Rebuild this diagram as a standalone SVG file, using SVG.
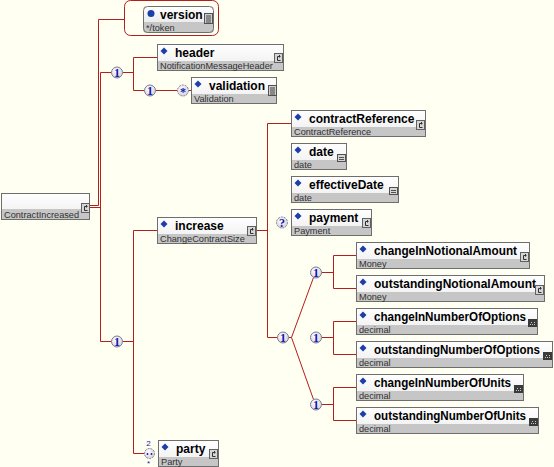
<svg xmlns="http://www.w3.org/2000/svg" xmlns:xlink="http://www.w3.org/1999/xlink" width="554" height="467" viewBox="0 0 554 467">
<style>
.ln{stroke:#b41e1e;stroke-width:1;fill:none}
.top{fill:url(#gt)}
.bot{fill:#c6c6c6}
.bd{fill:none;stroke:#6e6e6e}
.dm{fill:#1c3ea8}
.t{font-family:"Liberation Sans",Arial,sans-serif;font-weight:bold;font-size:12px;fill:#000}
.s{font-family:"Liberation Sans",Arial,sans-serif;font-size:9.2px;fill:#303030}
.cir{fill:url(#gc);stroke:#7c7c90}
.opt{stroke-dasharray:2,1}
.ct{font-family:"Liberation Serif",serif;font-weight:bold;font-size:12px;fill:#1414b4;text-anchor:middle}
.sm{font-family:"Liberation Sans",Arial,sans-serif;font-size:8px;fill:#1414b4;text-anchor:middle}
</style>
<defs>
<linearGradient id="gt" x1="0" y1="0" x2="0" y2="1"><stop offset="0" stop-color="#ffffff"/><stop offset="1" stop-color="#ececec"/></linearGradient>
<radialGradient id="gc" cx="0.4" cy="0.35" r="0.7"><stop offset="0" stop-color="#ffffff"/><stop offset="1" stop-color="#d0d0d8"/></radialGradient>
<g id="ic-c"><rect x="0.5" y="0.5" width="8" height="9" fill="#d6d6d6" stroke="#606060"/><path d="M6.5,3.5H3.5V7.5H6.5M5.5,2V4.5" stroke="#303030" fill="none"/></g>
<g id="ic-x"><rect x="0" y="0" width="9" height="8" fill="#3a3a3a"/><path d="M2,5.5h1M4,5.5h1M6,5.5h1M3,3.5h1M6,3.5h1" stroke="#c8c8c8"/></g>
<g id="ic-d"><rect x="0.5" y="0.5" width="8" height="7" fill="#d6d6d6" stroke="#505050"/><path d="M2,3.5h5M2,5.5h5" stroke="#505050"/></g>
<g id="ic-doc"><rect x="0.5" y="0.5" width="8" height="10" fill="#d0d0d0" stroke="#505050"/><path d="M2,3h5M2,5h5M2,7h5M2,9h5" stroke="#404040"/></g>
</defs>
<rect width="554" height="467" fill="#fffff2"/>

<g id="connectors" class="ln">
<path d="M90,205.5H98.5V19.5H124.5M90,207.5H100.5M100.5,72.5V341.5M100.5,72.5H111.5M122.5,72.5H133.5M133.5,57.5V90.5M133.5,57.5H157M133.5,90.5H144.5M155.5,90.5H177.5M188.5,90.5H191"/>
<path d="M100.5,341.5H111.5M122.5,341.5H133.5M133.5,230.5V453.5M133.5,230.5H157M133.5,453.5H144.5"/>
<path d="M257,230.5H267.5M267.5,123.5V337.5M267.5,123.5H291M267.5,337.5H277.5M288.5,337.5H291.5L313.5,277.5M291.5,337.5L313.5,399.5"/>
<path d="M321.5,272.5H333.5M333.5,255.5V288.5M333.5,255.5H356M333.5,288.5H356"/>
<path d="M321.5,337.5H333.5M333.5,321.5V354.5M333.5,321.5H356M333.5,354.5H356"/>
<path d="M321.5,404.5H333.5M333.5,387.5V420.5M333.5,387.5H356M333.5,420.5H356"/>
</g>

<g id="compositors">
<circle class="cir" cx="117" cy="72.5" r="5.5"/><text class="ct" x="117" y="76.5">1</text>
<circle class="cir" cx="150" cy="90.5" r="5.5"/><text class="ct" x="150" y="94.5">1</text>
<circle class="cir opt" cx="183" cy="90.5" r="5.5"/><text class="ct" x="183" y="96">*</text>
<circle class="cir" cx="117" cy="341.5" r="5.5"/><text class="ct" x="117" y="345.5">1</text>
<circle class="cir opt" cx="149.5" cy="453.5" r="5"/>
<circle cx="147.5" cy="454" r="0.9" fill="#1414b4"/><circle cx="151.5" cy="454" r="0.9" fill="#1414b4"/>
<text class="sm" x="148.5" y="445.5">2</text><text class="sm" x="148.5" y="466" font-size="10">*</text>
<circle class="cir opt" cx="282" cy="222.5" r="5.5"/><text class="ct" x="282" y="226.5">?</text>
<circle class="cir" cx="283" cy="337.5" r="5.5"/><text class="ct" x="283" y="341.5">1</text>
<circle class="cir" cx="316" cy="272.5" r="5.5"/><text class="ct" x="316" y="276.5">1</text>
<circle class="cir" cx="316" cy="337.5" r="5.5"/><text class="ct" x="316" y="341.5">1</text>
<circle class="cir" cx="316" cy="404.5" r="5.5"/><text class="ct" x="316" y="408.5">1</text>
</g>

<g id="n-root" transform="translate(1,193)">
<rect class="top" width="89" height="27"/><rect class="bot" y="16" width="89" height="11"/><rect class="bd" x="0.5" y="0.5" width="88" height="26"/>
<text class="s" x="3" y="24.5">ContractIncreased</text>
<use xlink:href="#ic-c" x="80" y="10"/>
</g>

<g id="n-version">
<rect x="124.5" y="0.5" width="94" height="35" rx="6" fill="none" stroke="#b41e1e"/>
<g transform="translate(143,6)">
<rect width="71" height="27" rx="4" fill="#c6c6c6"/>
<path d="M0,16V4A4,4 0 0 1 4,0H67A4,4 0 0 1 71,4V16Z" fill="url(#gt)"/>
<rect class="bd" x="0.5" y="0.5" width="70" height="26" rx="4"/>
<circle cx="8" cy="7.5" r="3.5" class="dm"/>
<text class="t" x="17" y="13">version</text>
<text class="s" x="3" y="24.5">*/token</text>
<use xlink:href="#ic-doc" x="61" y="7"/>
</g>
</g>

<g id="n-header" transform="translate(157,44)">
<rect class="top" width="127" height="27"/><rect class="bot" y="17" width="127" height="10"/><rect class="bd" x="0.5" y="0.5" width="126" height="26"/>
<polygon class="dm" points="7,3.5 10.5,7 7,10.5 3.5,7"/>
<text class="t" x="18" y="13">header</text>
<text class="s" x="3" y="25">NotificationMessageHeader</text>
<use xlink:href="#ic-c" x="117" y="9"/>
</g>

<g id="n-validation" transform="translate(191,77)">
<rect class="top" width="86" height="27"/><rect class="bot" y="17" width="86" height="10"/><rect class="bd" x="0.5" y="0.5" width="85" height="26"/>
<polygon class="dm" points="7,3.5 10.5,7 7,10.5 3.5,7"/>
<text class="t" x="18" y="13">validation</text>
<text class="s" x="3" y="25">Validation</text>
<use xlink:href="#ic-doc" x="77" y="8"/>
</g>

<g id="n-increase" transform="translate(157,217)">
<rect class="top" width="100" height="27"/><rect class="bot" y="17" width="100" height="10"/><rect class="bd" x="0.5" y="0.5" width="99" height="26"/>
<polygon class="dm" points="7,3.5 10.5,7 7,10.5 3.5,7"/>
<text class="t" x="18" y="13">increase</text>
<text class="s" x="3" y="25">ChangeContractSize</text>
<use xlink:href="#ic-c" x="90" y="9"/>
</g>

<g id="n-party" transform="translate(158,440)">
<rect class="top" width="61" height="27"/><rect class="bot" y="17" width="61" height="10"/><rect class="bd" x="0.5" y="0.5" width="60" height="26"/>
<polygon class="dm" points="7,3.5 10.5,7 7,10.5 3.5,7"/>
<text class="t" x="18" y="13">party</text>
<text class="s" x="3" y="25">Party</text>
<use xlink:href="#ic-c" x="51" y="9"/>
</g>

<g id="n-contractReference" transform="translate(291,110)">
<rect class="top" width="135" height="27"/><rect class="bot" y="17" width="135" height="10"/><rect class="bd" x="0.5" y="0.5" width="134" height="26"/>
<polygon class="dm" points="7,3.5 10.5,7 7,10.5 3.5,7"/>
<text class="t" x="18" y="13">contractReference</text>
<text class="s" x="3" y="25">ContractReference</text>
<use xlink:href="#ic-c" x="125" y="10"/>
</g>

<g id="n-date" transform="translate(291,143)">
<rect class="top" width="56" height="27"/><rect class="bot" y="17" width="56" height="10"/><rect class="bd" x="0.5" y="0.5" width="55" height="26"/>
<polygon class="dm" points="7,3.5 10.5,7 7,10.5 3.5,7"/>
<text class="t" x="18" y="13">date</text>
<text class="s" x="3" y="25">date</text>
<use xlink:href="#ic-d" x="46" y="11"/>
</g>

<g id="n-effectiveDate" transform="translate(291,176)">
<rect class="top" width="108" height="27"/><rect class="bot" y="17" width="108" height="10"/><rect class="bd" x="0.5" y="0.5" width="107" height="26"/>
<polygon class="dm" points="7,3.5 10.5,7 7,10.5 3.5,7"/>
<text class="t" x="18" y="13">effectiveDate</text>
<text class="s" x="3" y="25">date</text>
<use xlink:href="#ic-d" x="98" y="11"/>
</g>

<g id="n-payment" transform="translate(291,209)">
<rect class="top" width="81" height="27"/><rect class="bot" y="17" width="81" height="10"/><rect class="bd" x="0.5" y="0.5" width="80" height="26"/>
<polygon class="dm" points="7,3.5 10.5,7 7,10.5 3.5,7"/>
<text class="t" x="18" y="13">payment</text>
<text class="s" x="3" y="25">Payment</text>
<use xlink:href="#ic-c" x="71" y="9"/>
</g>

<g id="n-changeInNotionalAmount" transform="translate(356,242)">
<rect class="top" width="174" height="27"/><rect class="bot" y="17" width="174" height="10"/><rect class="bd" x="0.5" y="0.5" width="173" height="26"/>
<polygon class="dm" points="7,3.5 10.5,7 7,10.5 3.5,7"/>
<text class="t" x="18" y="13" textLength="143" lengthAdjust="spacingAndGlyphs">changeInNotionalAmount</text>
<text class="s" x="3" y="25">Money</text>
<use xlink:href="#ic-c" x="164" y="10"/>
</g>

<g id="n-outstandingNotionalAmount" transform="translate(356,275)">
<rect class="top" width="189" height="27"/><rect class="bot" y="17" width="189" height="10"/><rect class="bd" x="0.5" y="0.5" width="188" height="26"/>
<polygon class="dm" points="7,3.5 10.5,7 7,10.5 3.5,7"/>
<text class="t" x="18" y="13" textLength="162" lengthAdjust="spacingAndGlyphs">outstandingNotionalAmount</text>
<text class="s" x="3" y="25">Money</text>
<use xlink:href="#ic-c" x="179" y="10"/>
</g>

<g id="n-changeInNumberOfOptions" transform="translate(356,308)">
<rect class="top" width="182" height="27"/><rect class="bot" y="17" width="182" height="10"/><rect class="bd" x="0.5" y="0.5" width="181" height="26"/>
<polygon class="dm" points="7,3.5 10.5,7 7,10.5 3.5,7"/>
<text class="t" x="18" y="13" textLength="152" lengthAdjust="spacingAndGlyphs">changeInNumberOfOptions</text>
<text class="s" x="3" y="25">decimal</text>
<use xlink:href="#ic-x" x="172" y="11"/>
</g>

<g id="n-outstandingNumberOfOptions" transform="translate(356,341)">
<rect class="top" width="197" height="27"/><rect class="bot" y="17" width="197" height="10"/><rect class="bd" x="0.5" y="0.5" width="196" height="26"/>
<polygon class="dm" points="7,3.5 10.5,7 7,10.5 3.5,7"/>
<text class="t" x="18" y="13" textLength="166" lengthAdjust="spacingAndGlyphs">outstandingNumberOfOptions</text>
<text class="s" x="3" y="25">decimal</text>
<use xlink:href="#ic-x" x="187" y="11"/>
</g>

<g id="n-changeInNumberOfUnits" transform="translate(356,374)">
<rect class="top" width="168" height="27"/><rect class="bot" y="17" width="168" height="10"/><rect class="bd" x="0.5" y="0.5" width="167" height="26"/>
<polygon class="dm" points="7,3.5 10.5,7 7,10.5 3.5,7"/>
<text class="t" x="18" y="13" textLength="137" lengthAdjust="spacingAndGlyphs">changeInNumberOfUnits</text>
<text class="s" x="3" y="25">decimal</text>
<use xlink:href="#ic-x" x="158" y="11"/>
</g>

<g id="n-outstandingNumberOfUnits" transform="translate(356,407)">
<rect class="top" width="183" height="27"/><rect class="bot" y="17" width="183" height="10"/><rect class="bd" x="0.5" y="0.5" width="182" height="26"/>
<polygon class="dm" points="7,3.5 10.5,7 7,10.5 3.5,7"/>
<text class="t" x="18" y="13" textLength="152" lengthAdjust="spacingAndGlyphs">outstandingNumberOfUnits</text>
<text class="s" x="3" y="25">decimal</text>
<use xlink:href="#ic-x" x="173" y="11"/>
</g>
</svg>
